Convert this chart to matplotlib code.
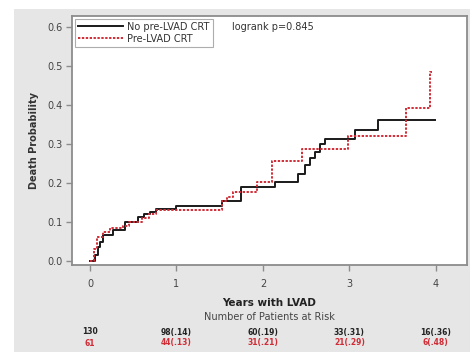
import matplotlib
matplotlib.use("Agg")
import matplotlib.pyplot as plt
import matplotlib.transforms as mtransforms
from matplotlib.patches import Rectangle
from matplotlib.lines import Line2D

# Data
t_no = [0.0, 0.035, 0.06, 0.09, 0.12, 0.15, 0.27, 0.40, 0.56, 0.62, 0.69, 0.76, 1.00, 1.53,
        1.75, 2.14, 2.40, 2.49, 2.54, 2.60, 2.66, 2.72, 3.06, 3.33, 3.99]
y_no = [0.0, 0.0, 0.015, 0.035, 0.05, 0.068, 0.08, 0.10, 0.113, 0.12, 0.127, 0.133, 0.142, 0.153,
        0.19, 0.203, 0.222, 0.246, 0.265, 0.28, 0.30, 0.313, 0.335, 0.362, 0.362]

t_pre = [0.0, 0.02, 0.05, 0.08, 0.15, 0.23, 0.38, 0.45, 0.60, 0.68, 0.76, 1.53, 1.58, 1.65,
         1.93, 2.10, 2.45, 2.98, 3.66, 3.93, 3.95]
y_pre = [0.0, 0.0, 0.03, 0.062, 0.075, 0.085, 0.09, 0.10, 0.11, 0.12, 0.13, 0.155, 0.165, 0.178,
         0.203, 0.257, 0.286, 0.32, 0.393, 0.485, 0.485]

series_labels = ["No pre-LVAD CRT", "Pre-LVAD CRT"]
xticks = [0, 1, 2, 3, 4]
yticks = [0.0, 0.1, 0.2, 0.3, 0.4, 0.5, 0.6]
risk_no = ["130", "98(.14)", "60(.19)", "33(.31)", "16(.36)"]
risk_pre = ["61", "44(.13)", "31(.21)", "21(.29)", "6(.48)"]

W, H = 470, 352
fig = plt.figure(figsize=(W / 100, H / 100), dpi=100)
fig.patch.set_facecolor("white")
bg = Rectangle((14 / W, 0), 1 - 14 / W, 1 - 9 / H, transform=fig.transFigure,
               facecolor="#e6e6e6", edgecolor="none", zorder=-10)
fig.patches.append(bg)

ax_l, ax_t, ax_r, ax_b = 72, 16, 467, 265
ax = fig.add_axes([ax_l / W, 1 - ax_b / H, (ax_r - ax_l) / W, (ax_b - ax_t) / H])
ax.set_facecolor("white")

red = "#d02c36"
ax.step(t_no, y_no, where="post", color="#1a1a1a", lw=1.4, label=series_labels[0])
ax.step(t_pre, y_pre, where="post", color=red, lw=1.4, ls=(0, (1.2, 0.8)),
        label=series_labels[1])

ax.set_xlim(-0.208, 4.36)
ax.set_ylim(-0.01, 0.628)
ax.set_xticks(xticks)
ax.set_xticklabels([str(v) for v in xticks])
ax.set_yticks(yticks)
ax.set_yticklabels([f"{v:.1f}" for v in yticks])

for s in ax.spines.values():
    s.set_color("#8c8c8c")
    s.set_linewidth(1.3)
ax.tick_params(direction="out", length=4, width=1, color="#8c8c8c",
               labelsize=7, labelcolor="#444444", pad=3)
ax.tick_params(axis="x", pad=6)

ax.set_ylabel("Death Probability", fontsize=7, fontweight="bold", color="#333333", labelpad=6)

leg = ax.legend(handles=[
    Line2D([0], [0], color="#1a1a1a", lw=1.4),
    Line2D([0], [0], color=red, lw=1.4, ls=(0, (1.2, 0.8)))],
    labels=series_labels, loc="upper left", bbox_to_anchor=(0.0, 1.0),
    fontsize=7, frameon=True, fancybox=False, borderpad=0.3, labelspacing=0.2,
    handlelength=4.6, handletextpad=0.5, borderaxespad=0.3)
leg.get_frame().set_edgecolor("#999999")
leg.get_frame().set_linewidth(0.8)
for t in leg.get_texts():
    t.set_color("#333333")

fig.text(232 / W, 1 - 27 / H, "logrank p=0.845", fontsize=7, color="#333333",
         va="center", ha="left")

cx = (ax_l + ax_r) / 2
fig.text(cx / W, 1 - 303 / H, "Years with LVAD", ha="center", va="center",
         fontsize=7.5, fontweight="bold", color="#222222")
fig.text(cx / W, 1 - 317 / H, "Number of Patients at Risk", ha="center", va="center",
         fontsize=7, color="#444444")

blend = mtransforms.blended_transform_factory(ax.transData, fig.transFigure)
for i, xv in enumerate(xticks):
    ax.text(xv, 1 - 332 / H, risk_no[i], transform=blend, ha="center", va="center",
            fontsize=5.5, fontweight="bold", color="#222222", clip_on=False)
    ax.text(xv, 1 - 343 / H, risk_pre[i], transform=blend, ha="center", va="center",
            fontsize=5.5, fontweight="bold", color=red, clip_on=False)

fig.savefig("out.png", dpi=100, facecolor=fig.get_facecolor())
